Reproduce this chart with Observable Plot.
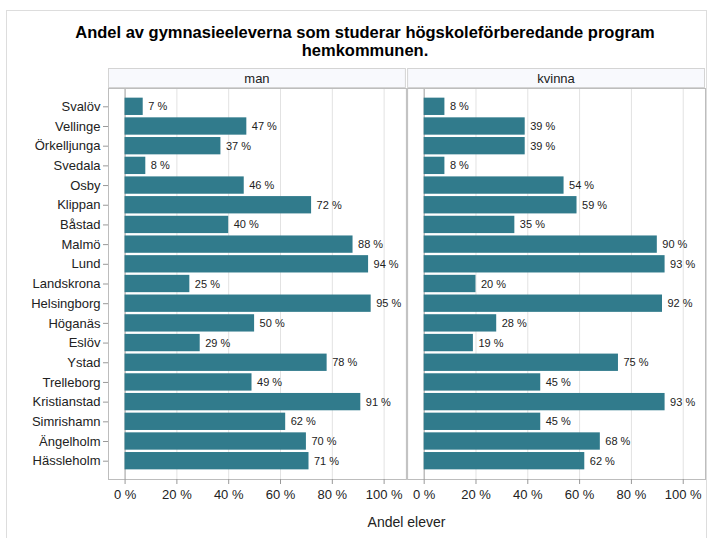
<!DOCTYPE html>
<html><head><meta charset="utf-8">
<script src="https://cdn.jsdelivr.net/npm/d3@7"></script>
<script src="https://cdn.jsdelivr.net/npm/@observablehq/plot@0.6"></script>
<style>
body{margin:0;background:#fff;font-family:"Liberation Sans",Arial,sans-serif;}
#wrap{position:relative;width:712px;height:538px;overflow:hidden;}
#border{position:absolute;left:6px;top:10px;width:701px;height:600px;border:1px solid #ddd;box-sizing:border-box;}
#title{position:relative;height:62px;box-sizing:border-box;padding:23px 0 0 18px;width:712px;text-align:center;font-weight:bold;font-size:16.5px;line-height:18px;color:#000;}
#chart{position:relative;}
</style></head>
<body><div id="wrap"><div id="border"></div>
<div id="title">Andel av gymnasieeleverna som studerar högskoleförberedande program<br>hemkommunen.</div>
<div id="chart"></div></div>
<script>
const kommuner = ["Svalöv","Vellinge","Örkelljunga","Svedala","Osby","Klippan","Båstad","Malmö","Lund","Landskrona","Helsingborg","Höganäs","Eslöv","Ystad","Trelleborg","Kristianstad","Simrishamn","Ängelholm","Hässleholm"];
const man = [7,47,37,8,46,72,40,88,94,25,95,50,29,78,49,91,62,70,71];
const kvinna = [8,39,39,8,54,59,35,90,93,20,92,28,19,75,45,93,45,68,62];
const facets = ["man","kvinna"];
const xTicks = [0,20,40,60,80,100];
const axisTitle = "Andel elever";

const rows = [];
kommuner.forEach((k,i)=>{
  rows.push({kommun:k, kon:"man", v:man[i]});
  rows.push({kommun:k, kon:"kvinna", v:kvinna[i]});
});
const fmt = d => d + " %";

const H = 476, MT = 26, MB = 59, ML = 108, MR = 7;
const chart = Plot.plot({
  width:712, height:H, marginTop:MT, marginBottom:MB, marginLeft:ML, marginRight:MR,
  style:{fontFamily:"Liberation Sans, Arial, sans-serif", fontSize:"13px", color:"#222", background:"transparent"},
  fx:{domain:facets, padding:0.004, axis:null, round:false},
  x:{domain:[-6.4,108.6]},
  y:{domain:kommuner, paddingInner:0.12, paddingOuter:0.49, align:0.5, round:false},
  marks:[
    Plot.gridX(xTicks, {stroke:"#e2e2e2", strokeOpacity:1}),
    Plot.ruleX([0], {stroke:"#a8a8a8"}),
    Plot.barX(rows, {fx:"kon", y:"kommun", x:"v", fill:"#317b8c"}),
    Plot.text(rows, {fx:"kon", y:"kommun", x:"v", text:d=>fmt(d.v), textAnchor:"start", dx:5, fontSize:11, fill:"#222"}),
    Plot.frame({stroke:"#bdbdbd"}),
    Plot.axisX(xTicks, {tickFormat:fmt, label:null, tickSize:5, tickPadding:5, stroke:"#999", fill:"#222", fontSize:13}),
    Plot.axisY({label:null, tickSize:5, tickPadding:3, stroke:"#999", fill:"#222", fontSize:13})
  ]
});

const svg = d3.select(chart);
const fx = chart.scale("fx");
facets.forEach(k=>{
  const x0 = fx.apply(k), w = fx.bandwidth;
  const g = svg.append("g");
  g.append("rect").attr("x",x0+0.5).attr("y",MT-19.5).attr("width",w-1).attr("height",19)
    .attr("fill","#f8f9fd").attr("stroke","#d4d4d4");
  g.append("text").attr("x",x0+w/2).attr("y",MT-10).attr("text-anchor","middle")
    .attr("dominant-baseline","central").attr("font-size",13).attr("fill","#222").text(k);
});
const fr = fx.range;
svg.append("text").attr("x",(fr[0]+fr[1])/2).attr("y",H-16).attr("text-anchor","middle")
  .attr("dominant-baseline","central").attr("font-size",14).attr("fill","#222").text(axisTitle);

document.getElementById("chart").appendChild(chart);
</script></body></html>
